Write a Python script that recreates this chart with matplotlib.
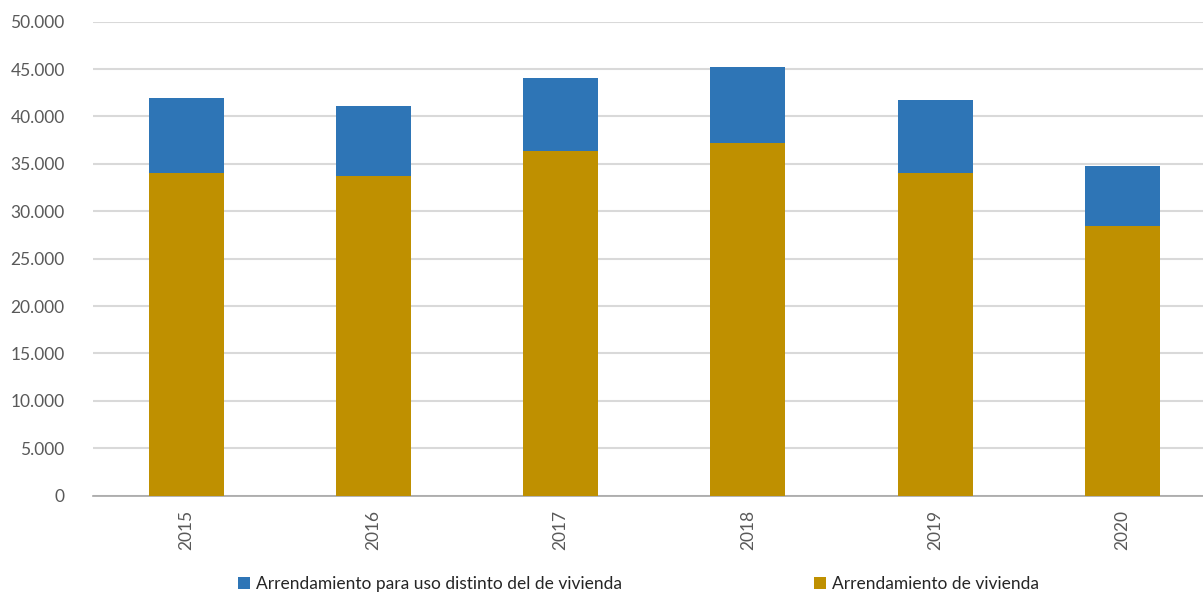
import matplotlib.pyplot as plt
from matplotlib.ticker import FuncFormatter, MultipleLocator

years = ['2015', '2016', '2017', '2018', '2019', '2020']
vivienda = [34050, 33720, 36350, 37170, 34040, 28450]
distinto = [7850, 7420, 7750, 8080, 7700, 6330]

blue = '#2E75B6'
gold = '#BF9000'
grey = '#595959'

plt.rcParams['font.family'] = ['Lato', 'DejaVu Sans']

fig = plt.figure(figsize=(12.03, 5.92), dpi=100)
ax = fig.add_axes([0.0769, 0.1627, 0.934, 0.8007])

x = range(len(years))
ax.bar(x, vivienda, width=0.4, color=gold, label='Arrendamiento de vivienda', zorder=3)
ax.bar(x, distinto, width=0.4, bottom=vivienda, color=blue,
       label='Arrendamiento para uso distinto del de vivienda', zorder=3)

ax.set_xlim(-0.5, len(years) - 0.5)
ax.set_ylim(0, 50000)
ax.yaxis.set_major_locator(MultipleLocator(5000))
ax.yaxis.set_major_formatter(FuncFormatter(lambda v, p: f'{int(v):,}'.replace(',', '.')))
ax.grid(axis='y', color='#D9D9D9', lw=1.5, zorder=0)

ax.set_xticks(list(x))
ax.set_xticklabels(years, rotation=90)
ax.tick_params(axis='both', length=0, colors=grey, labelsize=12.5)
ax.tick_params(axis='y', pad=20)
ax.tick_params(axis='x', pad=10)

for s in ['top', 'right', 'left']:
    ax.spines[s].set_visible(False)
ax.spines['bottom'].set_color('#A6A6A6')
ax.spines['bottom'].set_linewidth(1.2)

h, l = ax.get_legend_handles_labels()
fig.legend(h[::-1], l[::-1], ncol=2, loc='lower left', bbox_to_anchor=(0.185, -0.026),
           frameon=False, handlelength=0.7, handleheight=0.7, handletextpad=0.3,
           columnspacing=11.1, fontsize=12.5, labelcolor='#262626')

fig.savefig('out.png', dpi=100)
